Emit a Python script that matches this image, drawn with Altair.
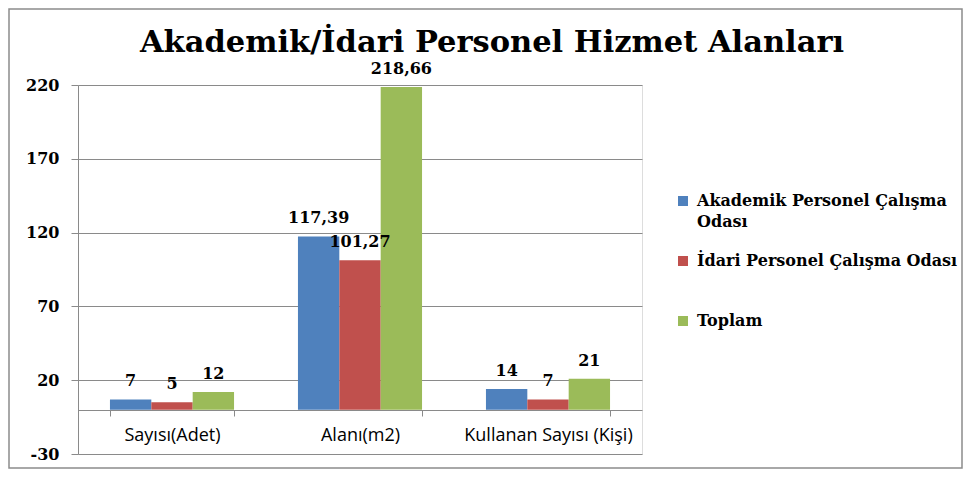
import altair as alt
import pandas as pd

categories = ["Sayısı(Adet)", "Alanı(m2)", "Kullanan Sayısı (Kişi)"]
series = ["Akademik Personel Çalışma Odası", "İdari Personel Çalışma Odası", "Toplam"]
akademik = [7, 117.39, 14]
idari = [5, 101.27, 7]
toplam = [12, 218.66, 21]
colors = ["#4F81BD", "#C0504D", "#9BBB59"]
y_ticks = [-30, 20, 70, 120, 170, 220]
title_text = "Akademik/İdari Personel Hizmet Alanları"

rows = []
for s, vals in zip(series, [akademik, idari, toplam]):
    for c, v in zip(categories, vals):
        rows.append({"kategori": c, "seri": s, "deger": v,
                     "etiket": f"{v:g}".replace(".", ",")})
df = pd.DataFrame(rows)

gray = "#8a8a8a"
serif = "DejaVu Serif"

x_enc = alt.X("kategori:N", sort=categories,
              scale=alt.Scale(paddingInner=0.34, paddingOuter=0.17),
              axis=alt.Axis(title=None, orient="bottom", offset=-44, labelAngle=0,
                            tickBand="extent", tickSize=6, tickColor=gray,
                            domainColor=gray, labelFont="Open Sans", labelFontSize=18,
                            labelColor="#000", labelPadding=10, grid=False))
y_enc = alt.Y("deger:Q", scale=alt.Scale(domain=[-30, 220], nice=False, zero=False),
              axis=alt.Axis(values=y_ticks, title=None, grid=True, gridColor=gray,
                            domainColor=gray, tickColor=gray, tickSize=7,
                            labelFont=serif, labelFontWeight="bold", labelFontSize=16,
                            labelColor="#000", labelPadding=12,
                            labelExpr="replace(datum.label, '−', '-')"))
xoff = alt.XOffset("seri:N", sort=series, scale=alt.Scale(paddingInner=0, paddingOuter=0))

base = alt.Chart(df)

legend_expr = ("datum.label == 'Akademik Personel Çalışma Odası' ? "
               "['Akademik Personel Çalışma', 'Odası'] : [datum.label, '']")

bars = base.mark_bar().encode(
    x=x_enc,
    xOffset=xoff,
    y=y_enc,
    y2=alt.datum(0),
    color=alt.Color("seri:N", sort=series,
                    scale=alt.Scale(domain=series, range=colors),
                    legend=alt.Legend(
                        title=None, orient="none", legendX=597, legendY=108,
                        symbolType="square", symbolSize=100, symbolStrokeWidth=0,
                        labelFont=serif, labelFontWeight="bold", labelFontSize=16,
                        labelColor="#000", labelOffset=6, labelLimit=400, rowPadding=23,
                        labelExpr=legend_expr)),
)

labels = base.mark_text(font=serif, fontWeight="bold", fontSize=16, color="#000",
                        baseline="middle", dy=-18).encode(
    x=alt.X("kategori:N", sort=categories),
    xOffset=alt.XOffset("seri:N", sort=series),
    y=alt.Y("deger:Q"),
    text="etiket:N",
)

meta = pd.DataFrame({"baslik": [title_text]})

border = alt.Chart(meta).mark_rect(
    fillOpacity=0, stroke="#8c8c8c", strokeWidth=1.5).encode(
    x=alt.value(-69), x2=alt.value(884), y=alt.value(-76), y2=alt.value(383))

title = alt.Chart(meta).mark_text(font=serif, fontWeight="bold", fontSize=30.5,
                                  color="#000", align="center",
                                  baseline="alphabetic").encode(
    x=alt.value(414), y=alt.value(-33), text="baslik:N")

chart = alt.layer(border, title, bars, labels).properties(
    width=564, height=369,
    padding={"left": 70, "top": 77, "right": 322, "bottom": 15},
    autosize=alt.AutoSizeParams(type="none"),
).configure_view(strokeWidth=0).configure(style={"guide-label": {"lineHeight": 21}})

chart.save("out.html", embed_options={"renderer": "svg", "actions": False})
